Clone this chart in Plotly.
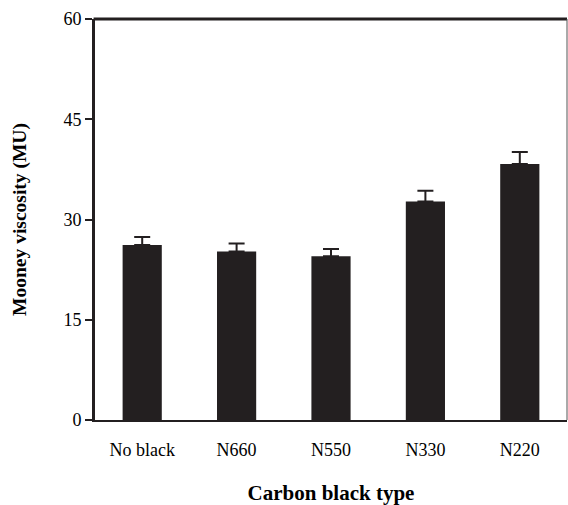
import plotly.graph_objects as go

# Mooney viscosity of the compounds by carbon black grade
categories = ["No black", "N660", "N550", "N330", "N220"]
viscosity = [26.2, 25.2, 24.5, 32.7, 38.3]
error_up = [1.2, 1.2, 1.1, 1.6, 1.8]

y_ticks = [0, 15, 30, 45, 60]

ink = "#231f20"
serif = "Liberation Serif, Times New Roman, serif"

fig = go.Figure(
    go.Bar(
        x=categories,
        y=viscosity,
        marker=dict(color=ink, line=dict(width=0)),
        error_y=dict(
            type="data",
            symmetric=False,
            array=error_up,
            arrayminus=[0] * len(error_up),
            color=ink,
            thickness=2,
            width=8,
        ),
    )
)

fig.update_layout(
    width=568,
    height=505,
    margin=dict(l=95, r=1, t=19, b=85),
    paper_bgcolor="white",
    plot_bgcolor="white",
    bargap=0.585,
    showlegend=False,
    font=dict(family=serif, size=18, color="black"),
    xaxis=dict(
        showline=True,
        linecolor=ink,
        linewidth=2,
        ticks="",
        ticklabelstandoff=12,
        tickfont=dict(size=18),
        showgrid=False,
        title=dict(
            text="<b>Carbon black type</b>",
            font=dict(size=21),
            standoff=30,
        ),
    ),
    yaxis=dict(
        range=[0, 60],
        tickvals=y_ticks,
        showline=True,
        linecolor=ink,
        linewidth=3,
        ticks="outside",
        ticklen=7,
        tickwidth=1.5,
        tickcolor=ink,
        tickfont=dict(size=18),
        showgrid=False,
        zeroline=False,
        title=dict(
            text="<b>Mooney viscosity (MU)</b>",
            font=dict(size=19.5),
            standoff=32,
        ),
    ),
    shapes=[
        dict(type="line", xref="paper", yref="paper", x0=-0.003, x1=1, y0=1, y1=1,
             line=dict(color=ink, width=3)),
        dict(type="line", xref="paper", yref="paper", x0=1, x1=1, y0=0, y1=1,
             line=dict(color="#555", width=1)),
    ],
)

fig.write_html("out.html")
